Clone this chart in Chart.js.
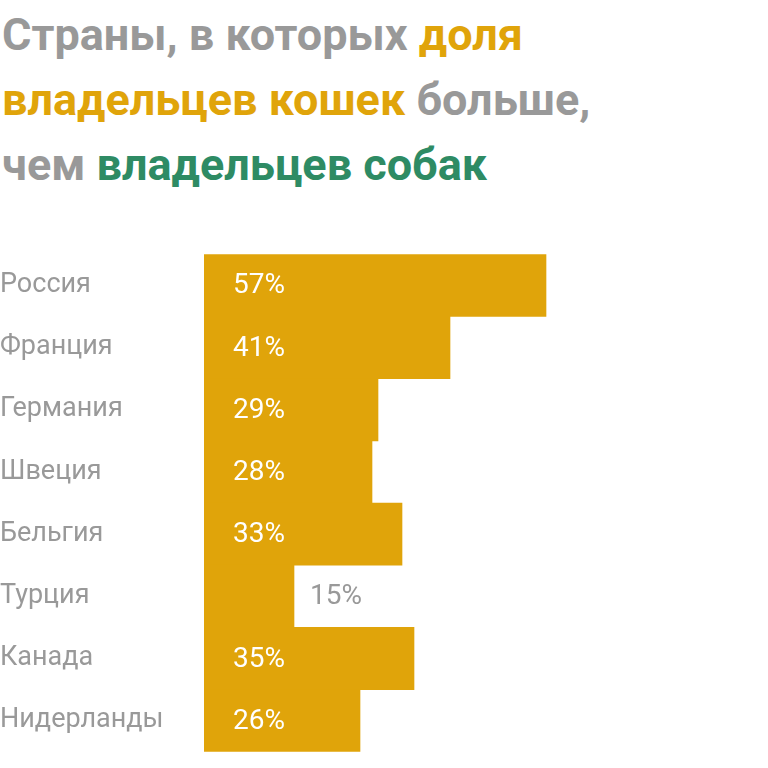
<!DOCTYPE html>
<html>
<head>
<meta charset="utf-8">
<script src="https://cdn.jsdelivr.net/npm/chart.js@4"></script>
<style>
  body { margin: 0; background: #fff; width: 768px; height: 768px; overflow: hidden; position: relative; font-family: Roboto, sans-serif; }
  #title { position: absolute; left: 2px; top: 2px; font-size: 45px; font-weight: bold; line-height: 65px; color: #999; white-space: nowrap; }
  .cat { color: #E0A40A; }
  .dog { color: #2E8B64; }
  canvas { position: absolute; top: 238px; }
  #catsChart { left: 0; }
  #dogsChart { left: 570px; }
</style>
</head>
<body>
<div id="title">Страны, в которых <span class="cat">доля</span><br><span class="cat">владельцев кошек</span> больше,<br>чем <span class="dog">владельцев собак</span></div>
<canvas id="catsChart" width="570" height="530" style="width:570px;height:530px"></canvas>
<canvas id="dogsChart" width="198" height="530" style="width:198px;height:530px"></canvas>
<script>
const countries = ['Россия', 'Франция', 'Германия', 'Швеция', 'Бельгия', 'Турция', 'Канада', 'Нидерланды'];
const catOwners = [57, 41, 29, 28, 33, 15, 35, 26];
const dogOwners = [29, 29, 21, 22, 29, 12, 33, 25];

const orange = '#E0A40A';
const green = '#2E8B64';
const gray = '#999999';

// writes the percentage inside the bar, or next to it if the bar is short
const valueLabels = {
    id: 'valueLabels',
    afterDatasetsDraw(chart) {
        const ctx = chart.ctx;
        const meta = chart.getDatasetMeta(0);
        const data = chart.data.datasets[0].data;
        ctx.save();
        ctx.font = '28px Roboto, sans-serif';
        ctx.textBaseline = 'middle';
        ctx.textAlign = 'left';
        meta.data.forEach((bar, i) => {
            const text = data[i] + '%';
            if (data[i] >= 20) {
                ctx.fillStyle = '#ffffff';
                ctx.fillText(text, bar.base + 29, bar.y + 1);
            } else {
                ctx.fillStyle = gray;
                ctx.fillText(text, bar.x + 16, bar.y + 1);
            }
        });
        ctx.restore();
    }
};

function makeChart(id, values, color, max, showNames) {
    return new Chart(document.getElementById(id), {
        type: 'bar',
        data: {
            labels: countries,
            datasets: [{ data: values, backgroundColor: color, barPercentage: 1, categoryPercentage: 1 }]
        },
        options: {
            indexAxis: 'y',
            responsive: false,
            animation: false,
            devicePixelRatio: 1,
            layout: { padding: 0 },
            plugins: { legend: { display: false }, tooltip: { enabled: false } },
            scales: {
                x: { display: false, min: 0, max: max },
                y: {
                    display: showNames,
                    grid: { display: false },
                    border: { display: false },
                    ticks: { color: gray, font: { size: 27, family: 'Roboto, sans-serif' }, crossAlign: 'far', padding: 0 },
                    afterFit(axis) { axis.width = 204; }
                }
            }
        },
        plugins: [valueLabels]
    });
}

makeChart('catsChart', catOwners, orange, 61, true);
makeChart('dogsChart', dogOwners, green, 33, false);
</script>
</body>
</html>
